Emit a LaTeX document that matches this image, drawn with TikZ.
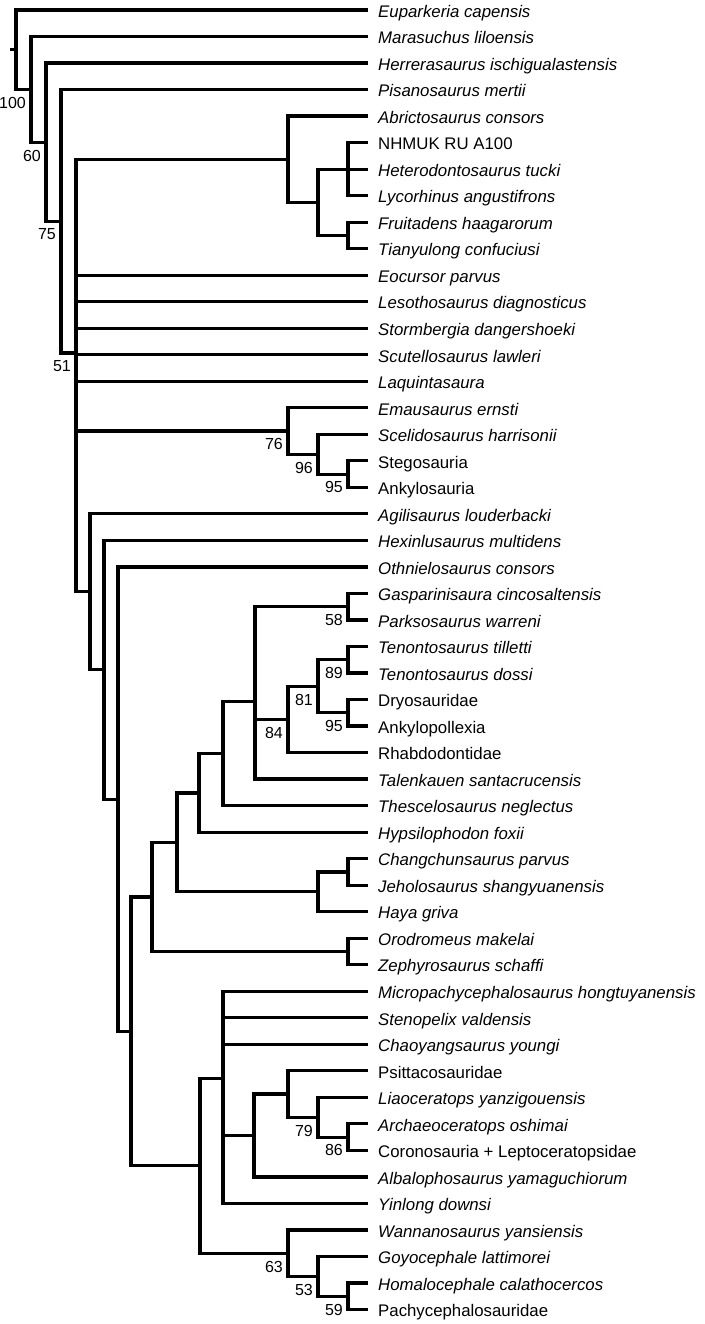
\documentclass[tikz,border=0pt]{standalone}
\usepackage{fontspec}
\setmainfont{Liberation Sans}
\usetikzlibrary{positioning}
\begin{document}
\begin{tikzpicture}[x=1pt,y=-26.52pt,
    branch/.style={line width=3.2pt},
    taxon/.style={inner sep=0pt,text height=14.5pt,text depth=0pt,font=\fontsize{16.8}{20}\selectfont},
    spec/.style={taxon,font=\fontsize{16.8}{20}\selectfont\itshape},
    grp/.style={taxon},
    boot/.style={inner sep=0pt,font=\fontsize{16}{18}\selectfont}]
\useasboundingbox (0,0.623) rectangle (704,50.547);

% tips, one row each
\foreach \tx/\st [count=\i] in {Euparkeria capensis/spec,Marasuchus liloensis/spec,
    Herrerasaurus ischigualastensis/spec,Pisanosaurus mertii/spec,Abrictosaurus consors/spec,
    NHMUK RU A100/grp,Heterodontosaurus tucki/spec,Lycorhinus angustifrons/spec,
    Fruitadens haagarorum/spec,Tianyulong confuciusi/spec,Eocursor parvus/spec,
    Lesothosaurus diagnosticus/spec,Stormbergia dangershoeki/spec,Scutellosaurus lawleri/spec,
    Laquintasaura/spec,Emausaurus ernsti/spec,Scelidosaurus harrisonii/spec,Stegosauria/grp,
    Ankylosauria/grp,Agilisaurus louderbacki/spec,Hexinlusaurus multidens/spec,
    Othnielosaurus consors/spec,Gasparinisaura cincosaltensis/spec,Parksosaurus warreni/spec,
    Tenontosaurus tilletti/spec,Tenontosaurus dossi/spec,Dryosauridae/grp,Ankylopollexia/grp,
    Rhabdodontidae/grp,Talenkauen santacrucensis/spec,Thescelosaurus neglectus/spec,
    Hypsilophodon foxii/spec,Changchunsaurus parvus/spec,Jeholosaurus shangyuanensis/spec,
    Haya griva/spec,Orodromeus makelai/spec,Zephyrosaurus schaffi/spec,
    Micropachycephalosaurus hongtuyanensis/spec,Stenopelix valdensis/spec,
    Chaoyangsaurus youngi/spec,Psittacosauridae/grp,Liaoceratops yanzigouensis/spec,
    Archaeoceratops oshimai/spec,Coronosauria + Leptoceratopsidae/grp,
    Albalophosaurus yamaguchiorum/spec,Yinlong downsi/spec,Wannanosaurus yansiensis/spec,
    Goyocephale lattimorei/spec,Homalocephale calathocercos/spec,Pachycephalosauridae/grp}
{
    \coordinate (L\i) at (368,\i);
    \node[\st,right=10pt of L\i] (T\i) {\tx};
}

% inner nodes
\coordinate (stem) at (10,2.4956);
\coordinate (Root) at (16,2.4956);
\coordinate (N60) at (31,3.9912);
\coordinate (N75) at (46,5.9825);
\coordinate (N51) at (61,8.9650);
\coordinate (Orni) at (76,13.9299);
\coordinate (Het) at (288,6.625);
\coordinate (Het2) at (318,8.25);
\coordinate (Het3) at (348,7);
\coordinate (Het4) at (348,9.5);
\coordinate (Thyr) at (288,16.875);
\coordinate (Thyr2) at (318,17.75);
\coordinate (Thyr3) at (348,18.5);
\coordinate (Neo) at (90,22.9390);
\coordinate (Neo2) at (104,25.8780);
\coordinate (Neo3) at (118,30.7560);
\coordinate (Neo4) at (131,39.5120);
\coordinate (Orn) at (152,34.4427);
\coordinate (Orn2) at (177,32.3854);
\coordinate (Orn3) at (199,30.5208);
\coordinate (Orn4) at (223,29.0417);
\coordinate (Orn5) at (255,27.0833);
\coordinate (Gasp) at (348,23.5);
\coordinate (Orn6) at (288,27.75);
\coordinate (Orn7) at (318,26.5);
\coordinate (Tenon) at (348,25.5);
\coordinate (Dryo) at (348,27.5);
\coordinate (Jeh) at (318,34.25);
\coordinate (Jeh2) at (348,33.5);
\coordinate (Oro) at (348,36.5);
\coordinate (Marg) at (200,44.58125);
\coordinate (Cer) at (223,41.2875);
\coordinate (Cer2) at (254,43.4375);
\coordinate (Cer3) at (288,41.875);
\coordinate (Cer4) at (318,42.75);
\coordinate (Cer5) at (348,43.5);
\coordinate (Pachy) at (288,47.875);
\coordinate (Pachy2) at (318,48.75);
\coordinate (Pachy3) at (348,49.5);

% branches
\draw[branch] (stem) -- (Root);
\draw[branch] (Root) |- (L1) (Root) |- (N60);
\draw[branch] (N60) |- (L2) (N60) |- (N75);
\draw[branch] (N75) |- (L3) (N75) |- (N51);
\draw[branch] (N51) |- (L4) (N51) |- (Orni);
\foreach \c in {Het,L11,L12,L13,L14,L15,Thyr,Neo}
    \draw[branch] (Orni) |- (\c);
\draw[branch] (Het) |- (L5) (Het) |- (Het2);
\draw[branch] (Het2) |- (Het3) (Het2) |- (Het4);
\draw[branch] (Het3) |- (L6) (Het3) |- (L7) (Het3) |- (L8);
\draw[branch] (Het4) |- (L9) (Het4) |- (L10);
\draw[branch] (Thyr) |- (L16) (Thyr) |- (Thyr2);
\draw[branch] (Thyr2) |- (L17) (Thyr2) |- (Thyr3);
\draw[branch] (Thyr3) |- (L18) (Thyr3) |- (L19);
\draw[branch] (Neo) |- (L20) (Neo) |- (Neo2);
\draw[branch] (Neo2) |- (L21) (Neo2) |- (Neo3);
\draw[branch] (Neo3) |- (L22) (Neo3) |- (Neo4);
\draw[branch] (Neo4) |- (Orn) (Neo4) |- (Marg);
\draw[branch] (Orn) |- (Orn2) (Orn) |- (Oro);
\draw[branch] (Orn2) |- (Orn3) (Orn2) |- (Jeh);
\draw[branch] (Orn3) |- (Orn4) (Orn3) |- (L32);
\draw[branch] (Orn4) |- (Orn5) (Orn4) |- (L31);
\draw[branch] (Orn5) |- (Gasp) (Orn5) |- (Orn6) (Orn5) |- (L30);
\draw[branch] (Gasp) |- (L23) (Gasp) |- (L24);
\draw[branch] (Orn6) |- (Orn7) (Orn6) |- (L29);
\draw[branch] (Orn7) |- (Tenon) (Orn7) |- (Dryo);
\draw[branch] (Tenon) |- (L25) (Tenon) |- (L26);
\draw[branch] (Dryo) |- (L27) (Dryo) |- (L28);
\draw[branch] (Jeh) |- (Jeh2) (Jeh) |- (L35);
\draw[branch] (Jeh2) |- (L33) (Jeh2) |- (L34);
\draw[branch] (Oro) |- (L36) (Oro) |- (L37);
\draw[branch] (Marg) |- (Cer) (Marg) |- (Pachy);
\foreach \c in {L38,L39,L40,Cer2,L46}
    \draw[branch] (Cer) |- (\c);
\draw[branch] (Cer2) |- (Cer3) (Cer2) |- (L45);
\draw[branch] (Cer3) |- (L41) (Cer3) |- (Cer4);
\draw[branch] (Cer4) |- (L42) (Cer4) |- (Cer5);
\draw[branch] (Cer5) |- (L43) (Cer5) |- (L44);
\draw[branch] (Pachy) |- (L47) (Pachy) |- (Pachy2);
\draw[branch] (Pachy2) |- (L48) (Pachy2) |- (Pachy3);
\draw[branch] (Pachy3) |- (L49) (Pachy3) |- (L50);

% support values
\node[boot,below left=7.5pt and 5pt of N60] (bN60) {100};
\node[boot,below left=7.5pt and 5pt of N75] (bN75) {60};
\node[boot,below left=7.5pt and 5pt of N51] (bN51) {75};
\node[boot,below left=7.5pt and 5pt of Orni] (bOrni) {51};
\node[boot,below left=7.5pt and 5pt of Thyr] (bThyr) {76};
\node[boot,below left=7.5pt and 5pt of Thyr2] (bThyr2) {96};
\node[boot,below left=7.5pt and 5pt of Thyr3] (bThyr3) {95};
\node[boot,below left=7.5pt and 5pt of Gasp] (bGasp) {58};
\node[boot,below left=7.5pt and 5pt of Tenon] (bTenon) {89};
\node[boot,below left=7.5pt and 5pt of Orn7] (bOrn7) {81};
\node[boot,below left=7.5pt and 5pt of Dryo] (bDryo) {95};
\node[boot,below left=7.5pt and 5pt of Orn6] (bOrn6) {84};
\node[boot,below left=7.5pt and 5pt of Cer4] (bCer4) {79};
\node[boot,below left=7.5pt and 5pt of Cer5] (bCer5) {86};
\node[boot,below left=7.5pt and 5pt of Pachy] (bPachy) {63};
\node[boot,below left=7.5pt and 5pt of Pachy2] (bPachy2) {53};
\node[boot,below left=7.5pt and 5pt of Pachy3] (bPachy3) {59};
\end{tikzpicture}
\end{document}
